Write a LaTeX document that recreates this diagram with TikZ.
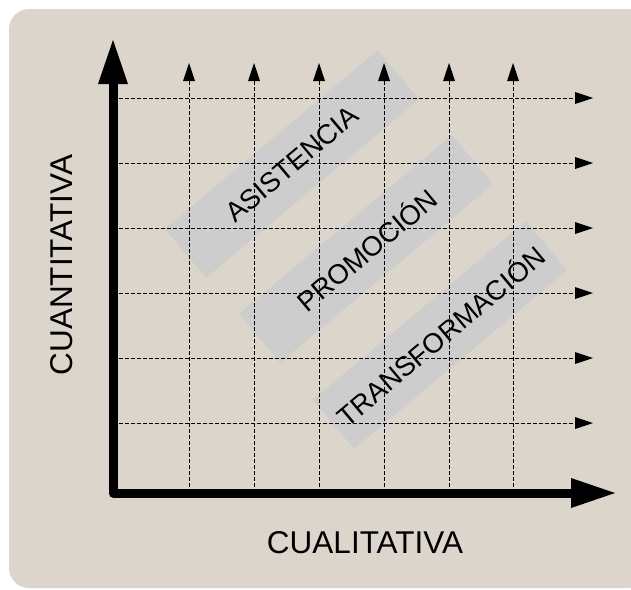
\documentclass[tikz,border=0pt]{standalone}
\usepackage{fontspec}
\setmainfont{Liberation Sans}
\usetikzlibrary{arrows.meta}
\definecolor{bgbeige}{HTML}{DCD5CB}
\definecolor{bandgray}{HTML}{CDCDCD}
\begin{document}
\begin{tikzpicture}[x=1pt,y=-1pt,
  gridline/.style={dash pattern=on 4pt off 2pt, line width=0.9pt,
    -{Triangle[length=18pt,width=12pt,line width=0pt]}},
  axisline/.style={line width=9pt, line join=round,
    {Triangle[length=44pt,width=30pt,line width=0pt]}-{Triangle[length=44pt,width=30pt,line width=0pt]}},
  band/.style={fill=bandgray, draw=none, inner sep=0pt, minimum width=278pt, minimum height=64pt, rotate=40},
  bandtext/.style={font=\fontsize{27.5}{30}\selectfont, rotate=40, inner sep=0pt},
  axistext/.style={font=\fontsize{31.5}{34}\selectfont, inner sep=0pt}]
\useasboundingbox (0,0) rectangle (631,589);
\clip (0,0) rectangle (631,589);
% background panel
\fill[bgbeige, rounded corners=20pt] (9,9) rectangle (650,588);
% bands
\node[band] (b1) at (292,164) {};
\node[band] (b2) at (366,249) {};
\node[band] (b3) at (440,335) {};
% grid
\foreach \i/\y in {1/98,2/163,3/228,4/293,5/358,6/423}{
  \coordinate (hs\i) at (113,\y);
  \coordinate (he\i) at (593,\y);
  \draw[gridline] (hs\i) -- (he\i);
}
\foreach \i/\x in {1/189,2/254,3/319,4/384,5/449,6/513}{
  \coordinate (vs\i) at (\x,493);
  \coordinate (ve\i) at (\x,63);
  \draw[gridline] (vs\i) -- (ve\i);
}
% band labels
\node[bandtext] (t1) at (b1.center) {ASISTENCIA};
\node[bandtext] (t2) at (b2.center) {PROMOCIÓN};
\node[bandtext] (t3) at (b3.center) {TRANSFORMACIÓN};
% axes
\coordinate (ytip) at (113,40);
\coordinate (xtip) at (615,493);
\draw[axisline] (ytip) |- (xtip);
% axis labels
\node[axistext, rotate=90] (ylab) at (62,265) {CUANTITATIVA};
\node[axistext] (xlab) at (365,543) {CUALITATIVA};
\end{tikzpicture}
\end{document}
